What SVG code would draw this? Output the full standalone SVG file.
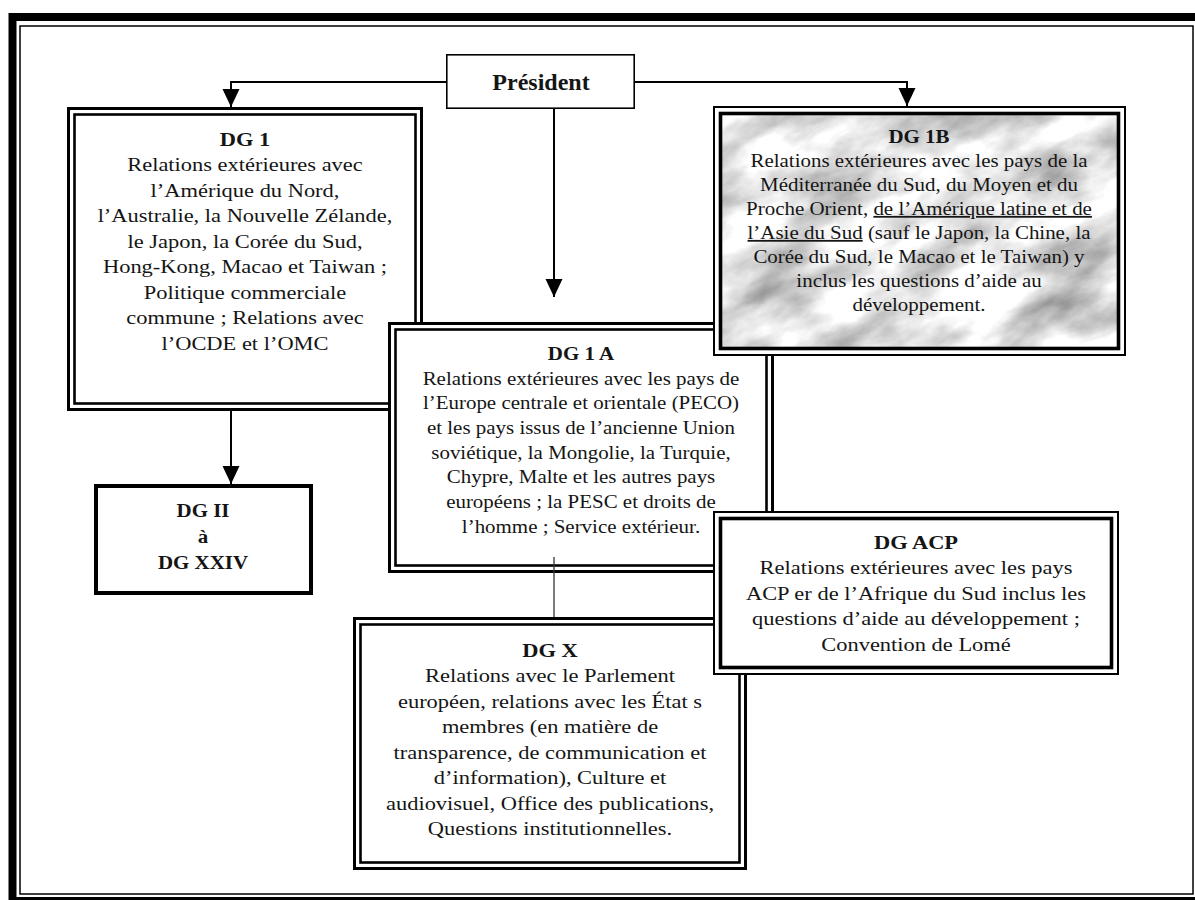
<svg xmlns="http://www.w3.org/2000/svg" width="1195" height="900" viewBox="0 0 1195 900">
  <style>
    .bg { fill: #ffffff; }
    .frame-thick { fill: none; stroke: #000; stroke-width: 8; }
    .frame-thin { fill: none; stroke: #000; stroke-width: 1.5; }
    .box-fill { fill: #ffffff; stroke: none; }
    .dbl-o { fill: none; stroke: #000; stroke-width: 3; }
    .dbl-i { fill: none; stroke: #000; stroke-width: 2.6; }
    .tt-o { fill: none; stroke: #000; stroke-width: 2; }
    .tt-i { fill: none; stroke: #000; stroke-width: 3.6; }
    .single { fill: #ffffff; stroke: #000; stroke-width: 4; }
    .pres { fill: #ffffff; stroke: #000; stroke-width: 1.6; }
    .txt { font-family: "Liberation Serif", "Times New Roman", serif; fill: #151515; text-anchor: middle; }
    .t-lg { font-size: 19.2px; }
    .t-sm { font-size: 17.9px; }
    .b { font-weight: bold; }
    .u { text-decoration: underline; }
    .conn { fill: none; stroke: #000; stroke-width: 2; }
    .conn-thin { fill: none; stroke: #333; stroke-width: 1.3; }
  </style>
  <defs>
    <marker id="head" markerUnits="userSpaceOnUse" markerWidth="18" markerHeight="18" refX="18" refY="8.5" orient="auto">
      <path d="M0,0 L18,8.5 L0,17 Z" fill="#000"/>
    </marker>
    <!-- light grey marble: pale base, soft grey clouds and fine grain -->
    <filter id="marble" x="0" y="0" width="1" height="1" color-interpolation-filters="sRGB">
      <feTurbulence type="fractalNoise" baseFrequency="0.011 0.024" numOctaves="6" seed="9" result="n"/>
      <feColorMatrix in="n" type="matrix" values="0.8 0 0 0 0.5  0.8 0 0 0 0.5  0.8 0 0 0 0.5  0 0 0 0 1"/>
    </filter>
    <clipPath id="clip1b">
      <rect x="719" y="112" width="401" height="238"/>
    </clipPath>
  </defs>

  <rect class="bg" x="0" y="0" width="1195" height="900"/>

  <!-- page frame: heavy outer rule with a hairline inside -->
  <rect class="frame-thick" x="12.5" y="17" width="1200" height="884"/>
  <rect class="frame-thin" x="20" y="26" width="1173" height="868"/>

  <!-- DG 1 -->
  <g id="dg1">
    <rect class="box-fill" x="67" y="107" width="356" height="304"/>
    <rect class="dbl-o" x="68.5" y="108.5" width="353" height="301"/>
    <rect class="dbl-i" x="74.5" y="114.5" width="341" height="289"/>
    <g class="txt t-lg" transform="translate(245 0) scale(1.17 1)">
      <text x="0" y="146" class="b">DG 1</text>
      <text x="0" y="171.5">Relations extérieures avec</text>
      <text x="0" y="197">l’Amérique du Nord,</text>
      <text x="0" y="222.5">l’Australie, la Nouvelle Zélande,</text>
      <text x="0" y="248">le Japon, la Corée du Sud,</text>
      <text x="0" y="273.5">Hong-Kong, Macao et Taiwan ;</text>
      <text x="0" y="299">Politique commerciale</text>
      <text x="0" y="324.5">commune ; Relations avec</text>
      <text x="0" y="350">l’OCDE et l’OMC</text>
    </g>
  </g>

  <!-- DG II à DG XXIV -->
  <g id="dg2-24">
    <rect class="single" x="96" y="486" width="215" height="107"/>
    <g class="txt t-sm b" transform="translate(203 0) scale(1.17 1)">
      <text x="0" y="517">DG II</text>
      <text x="0" y="543">à</text>
      <text x="0" y="569">DG XXIV</text>
    </g>
  </g>

  <!-- DG X -->
  <g id="dgx">
    <rect class="box-fill" x="353" y="617" width="394" height="253"/>
    <rect class="dbl-o" x="354.5" y="618.5" width="391" height="250"/>
    <rect class="dbl-i" x="360.5" y="624.5" width="379" height="238"/>
    <g class="txt t-lg" transform="translate(550 0) scale(1.17 1)">
      <text x="0" y="657" class="b">DG X</text>
      <text x="0" y="682.5">Relations avec le Parlement</text>
      <text x="0" y="708">européen, relations avec les État s</text>
      <text x="0" y="733.5">membres (en matière de</text>
      <text x="0" y="759">transparence, de communication et</text>
      <text x="0" y="784.5">d’information), Culture et</text>
      <text x="0" y="810">audiovisuel, Office des publications,</text>
      <text x="0" y="835.5">Questions institutionnelles.</text>
    </g>
  </g>

  <!-- DG 1 A -->
  <g id="dg1a">
    <rect class="box-fill" x="388" y="322" width="386" height="251"/>
    <rect class="dbl-o" x="389.5" y="323.5" width="383" height="248"/>
    <rect class="dbl-i" x="395.5" y="329.5" width="371" height="236"/>
    <g class="txt t-sm" transform="translate(581 0) scale(1.17 1)">
      <text x="0" y="360" class="b">DG 1 A</text>
      <text x="0" y="384.6">Relations extérieures avec les pays de</text>
      <text x="0" y="409.3">l’Europe centrale et orientale (PECO)</text>
      <text x="0" y="434">et les pays issus de l’ancienne Union</text>
      <text x="0" y="458.6">soviétique, la Mongolie, la Turquie,</text>
      <text x="0" y="483.3">Chypre, Malte et les autres pays</text>
      <text x="0" y="508">européens ; la PESC et droits de</text>
      <text x="0" y="532.6">l’homme ; Service extérieur.</text>
    </g>
  </g>

  <!-- DG 1B (marble panel) -->
  <g id="dg1b">
    <rect class="box-fill" x="713" y="106" width="413" height="250"/>
    <g clip-path="url(#clip1b)">
      <rect x="560" y="-80" width="720" height="620" fill="#ddd" filter="url(#marble)" transform="rotate(-22 919 231)"/>
    </g>
    <rect class="tt-o" x="714" y="107" width="411" height="248"/>
    <rect class="tt-i" x="720.5" y="113.5" width="398" height="235"/>
    <g class="txt t-sm" transform="translate(919 0) scale(1.17 1)">
      <text x="0" y="143" class="b">DG 1B</text>
      <text x="0" y="167">Relations extérieures avec les pays de la</text>
      <text x="0" y="191">Méditerranée du Sud, du Moyen et du</text>
      <text x="0" y="215">Proche Orient, <tspan class="u">de l’Amérique latine et de</tspan></text>
      <text x="0" y="239"><tspan class="u">l’Asie du Sud</tspan> (sauf le Japon, la Chine, la</text>
      <text x="0" y="263">Corée du Sud, le Macao et le Taiwan) y</text>
      <text x="0" y="287">inclus les questions d’aide au</text>
      <text x="0" y="311">développement.</text>
    </g>
  </g>

  <!-- DG ACP -->
  <g id="dgacp">
    <rect class="box-fill" x="713" y="511" width="406" height="164"/>
    <rect class="tt-o" x="714" y="512" width="404" height="162"/>
    <rect class="tt-i" x="720.5" y="518.5" width="391" height="149"/>
    <g class="txt t-lg" transform="translate(916 0) scale(1.17 1)">
      <text x="0" y="549" class="b">DG ACP</text>
      <text x="0" y="574.5">Relations extérieures avec les pays</text>
      <text x="0" y="600">ACP er de l’Afrique du Sud inclus les</text>
      <text x="0" y="625.5">questions d’aide au développement ;</text>
      <text x="0" y="651">Convention de Lomé</text>
    </g>
  </g>

  <!-- Président -->
  <g id="president">
    <rect class="pres" x="446.8" y="54.8" width="187.4" height="53.4"/>
    <text class="txt b" x="541" y="90" font-size="24">Président</text>
  </g>

  <!-- connectors -->
  <g id="connectors">
    <path class="conn" d="M446,82 H231 V107" marker-end="url(#head)"/>
    <path class="conn" d="M635,82 H907 V106" marker-end="url(#head)"/>
    <path class="conn" d="M554,109 V297" marker-end="url(#head)"/>
    <path class="conn" d="M231,411 V484" marker-end="url(#head)"/>
    <path class="conn-thin" d="M554,557 V617"/>
  </g>
</svg>
